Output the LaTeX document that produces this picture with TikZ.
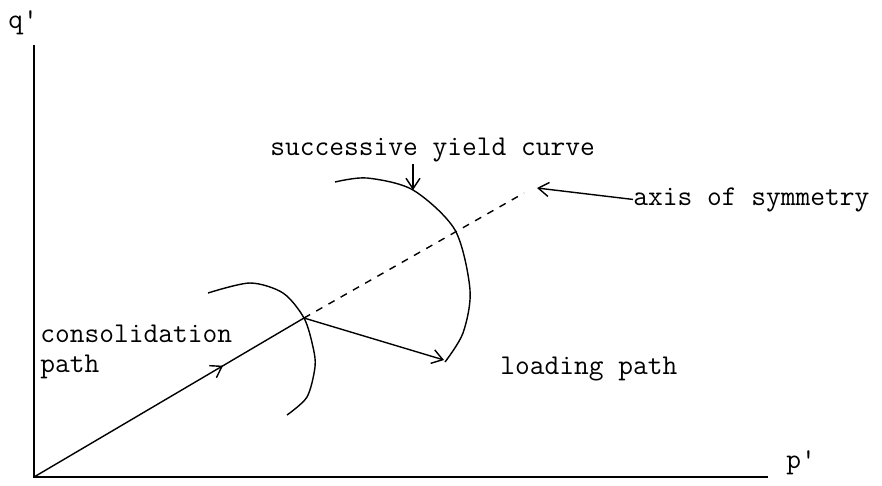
\documentclass[tikz,border=0pt]{standalone}
\usetikzlibrary{arrows.meta,decorations.markings}
\begin{document}
\begin{tikzpicture}[x=0.02cm,y=-0.02cm,
    >={Straight Barb[length=6pt,width=8pt]},
    lbl/.style={font=\ttfamily\fontsize{16.3}{17}\selectfont, inner sep=0pt, anchor=base west},
    curve/.style={line width=0.8pt},
    midarrow/.style={postaction={decorate},
      decoration={markings, mark=at position 0.7 with {\arrow{>}}}}]
    \useasboundingbox (0,0) rectangle (882,485);
    % O es el origen de los ejes, A el punto donde cambia la trayectoria
    \coordinate (O) at (34,477);
    \coordinate (Qtop) at (34,45);
    \coordinate (Pend) at (768,477);
    \coordinate (A) at (304,318);
    \coordinate (L) at (444,360);
    \coordinate (S) at (524,193);
    \coordinate (Stip) at (537,188);
    \coordinate (Ytop) at (413,164);
    \coordinate (Ytip) at (413,190);
    \draw[line width=1.1pt] (Qtop) -- (O) -- (Pend);
    \node[lbl] (q) at (8,28) {q'};
    \node[lbl] (p) at (786,468) {p'};
    \draw[curve, midarrow] (O) -- (A);
    \draw[curve, ->] (A) -- (L);
    \draw[curve, dash pattern=on 4pt off 4pt] (A) -- (S);
    \draw[curve] plot[smooth] coordinates {(208,293) (250,283) (283,293) (304,318) (313,347) (315,367) (307,397) (287,415)};
    \draw[curve] plot[smooth] coordinates {(335,182) (367,178) (413,190) (455,230) (470,290) (463,333) (445,362)};
    \node[lbl] (yield) at (270,155) {successive yield curve};
    \node[lbl] (sym) at (633,205) {axis of symmetry};
    \node[lbl, align=left] (cons) at (40,372) {consolidation\\path};
    \node[lbl] (load) at (500,374) {loading path};
    \draw[curve, ->] (Ytop) -- (Ytip);
    \draw[curve, ->] (sym.west) -- (Stip);
\end{tikzpicture}
\end{document}
